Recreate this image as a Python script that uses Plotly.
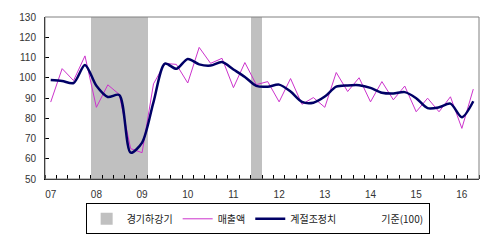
import plotly.graph_objects as go

# Quarterly data 2007Q1 .. 2016Q2
quarters = list(range(38))
year_labels = ["07", "08", "09", "10", "11", "12", "13", "14", "15", "16"]
year_pos = [0, 4, 8, 12, 16, 20, 24, 28, 32, 36]

sales = [88, 104.5, 98.6, 110.8, 85.4, 96.5, 91.8, 65, 63, 97,
         107.1, 106.6, 97.4, 115, 107.1, 109.6, 95.1, 107.5, 96.6, 98.1,
         88.1, 99.6, 86.9, 90.2, 85.4, 102.6, 93.2, 100, 88.1, 98.1,
         89.1, 95.9, 83.2, 89.9, 83.2, 90.6, 75, 94.4]

seasonal = [98.9, 98.4, 97.4, 106.3, 96, 90.5, 91.5, 63, 68, 88,
            107, 104.4, 109.3, 106.6, 106, 107.8, 104.1, 100.4, 96, 95.6,
            96.6, 93.2, 88.1, 87.7, 90.7, 95.6, 96.2, 96.3, 95, 92.6,
            92.2, 92.9, 89.9, 85, 85.4, 87.2, 80.5, 88.4]

recession_q = [4, 5, 6, 7, 8, 18]
recession_top = [131] * len(recession_q)
baseline = [100] * len(quarters)

fig = go.Figure()
fig.add_trace(go.Bar(x=recession_q, y=[t - 50 for t in recession_top], base=50, width=1,
                     marker=dict(color="#C0C0C0", line=dict(width=0)),
                     name="경기하강기"))
fig.add_trace(go.Scatter(x=quarters, y=sales, mode="lines",
                         line=dict(color="#CC33CC", width=1), name="매출액"))
fig.add_trace(go.Scatter(x=quarters, y=seasonal, mode="lines",
                         line=dict(color="#000066", width=2.5, shape="spline", smoothing=0.8),
                         name="계절조정치"))
fig.add_trace(go.Scatter(x=quarters, y=baseline, mode="lines",
                         line=dict(color="rgba(255,255,255,0)", width=1), name="기준(100)"))

fig.update_layout(
    width=491, height=246,
    margin=dict(l=45, r=12, t=17, b=50),
    paper_bgcolor="white", plot_bgcolor="white",
    font=dict(family="Noto Sans CJK KR, Arial", size=10, color="#222"),
    bargap=0,
    showlegend=True,
    legend=dict(orientation="h", x=0.49, xanchor="center", y=-0.15, yanchor="top",
                bordercolor="black", borderwidth=1, bgcolor="white",
                font=dict(size=10, color="#222"), itemwidth=30,
                tracegroupgap=0, traceorder="normal"),
    xaxis=dict(range=[-0.5, 37.5], tickmode="array", tickvals=year_pos, ticktext=year_labels,
               ticks="", showgrid=False, zeroline=False,
               showline=True, linecolor="black", linewidth=1,
               minor=dict(tick0=-0.5, dtick=1, ticks="inside", ticklen=4, tickcolor="black", showgrid=False),
               ticklabelstandoff=6, tickfont=dict(family="Arial", size=10, color="#333")),
    yaxis=dict(range=[50, 130], dtick=10, ticks="inside", ticklen=4, tickcolor="black",
               showgrid=False, zeroline=False, showline=True, linecolor="black", linewidth=1,
               ticklabelstandoff=6, tickfont=dict(family="Arial", size=10, color="#333")),
    shapes=[dict(type="rect", xref="paper", yref="paper", x0=0, x1=1, y0=0, y1=1,
                 line=dict(color="#808080", width=1), layer="above")],
)

fig.write_html("out.html")
